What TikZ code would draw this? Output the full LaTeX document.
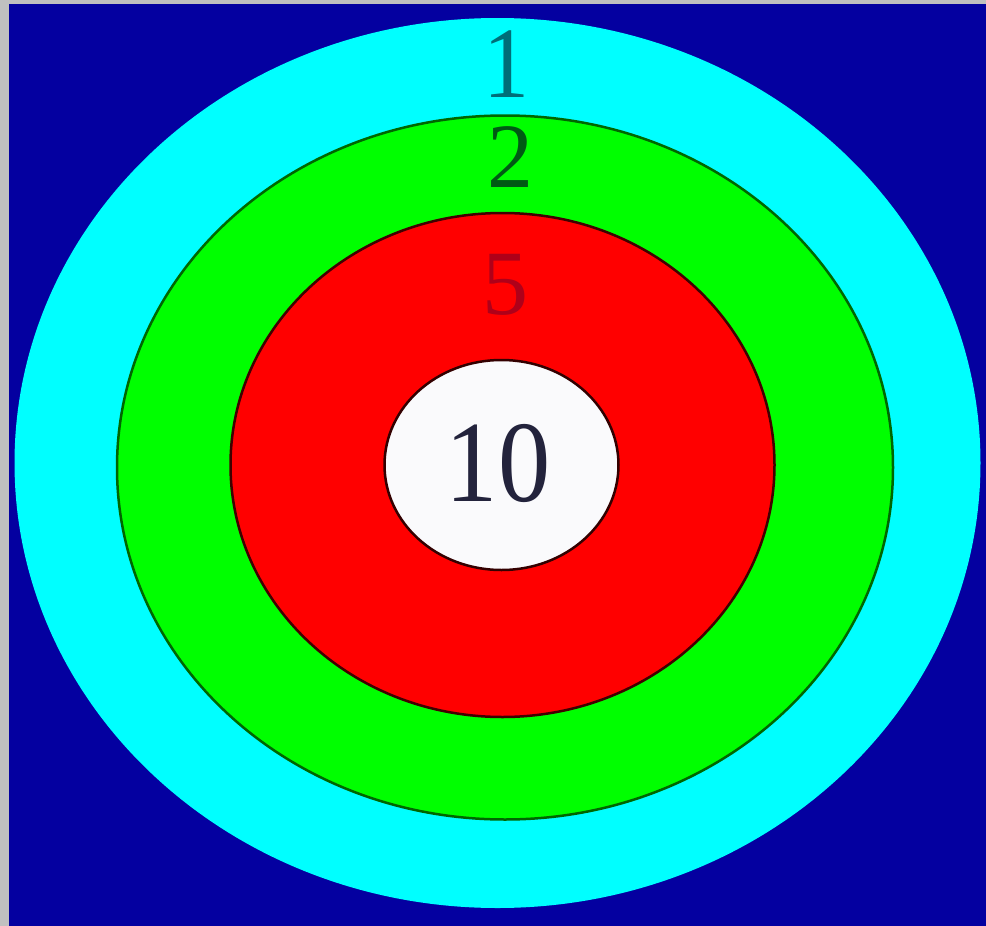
\documentclass[tikz,border=0pt]{standalone}
\usepackage{fontspec}
\setmainfont{Liberation Serif}
\definecolor{bgblue}{RGB}{4,0,160}
\definecolor{framegray}{RGB}{192,192,192}
\definecolor{ringcyan}{RGB}{0,255,255}
\definecolor{ringgreen}{RGB}{0,255,0}
\definecolor{ringred}{RGB}{255,0,0}
\definecolor{ringwhite}{RGB}{250,250,252}
\definecolor{lblone}{RGB}{0,110,120}
\definecolor{lbltwo}{RGB}{0,90,20}
\definecolor{lblfive}{RGB}{175,0,25}
\definecolor{lblten}{RGB}{35,35,60}
\tikzset{
  ring/.style={draw=black!70, line width=2.5pt},
  digit/.style={inner sep=0pt, font=\fontsize{92}{96}\selectfont}
}
\begin{document}
\begin{tikzpicture}[x=1pt,y=-1pt]
\useasboundingbox (0,0) rectangle (986,926);
\fill[framegray] (0,0) rectangle (986,926);
\fill[bgblue] (9,4) rectangle (986,926);
\fill[ringcyan] (497.5,463) ellipse [x radius=483, y radius=445];
\filldraw[ring, fill=ringgreen, draw=black!60!green] (505,467.5) ellipse [x radius=388, y radius=352];
\filldraw[ring, fill=ringred, draw=black!75!red] (502.5,465) ellipse [x radius=272, y radius=252];
\filldraw[ring, fill=ringwhite, draw=black!80!red] (501.5,465) ellipse [x radius=117, y radius=105];
\node[digit, text=lblone, yscale=1.1] (one) at (506,64) {1};
\node[digit, text=lbltwo] (two) at (510,157) {2};
\node[digit, text=lblfive] (five) at (505,285) {5};
\node[digit, text=lblten, xscale=0.9, font=\fontsize{116}{120}\selectfont] (ten) at (498,463) {10};
\end{tikzpicture}
\end{document}
